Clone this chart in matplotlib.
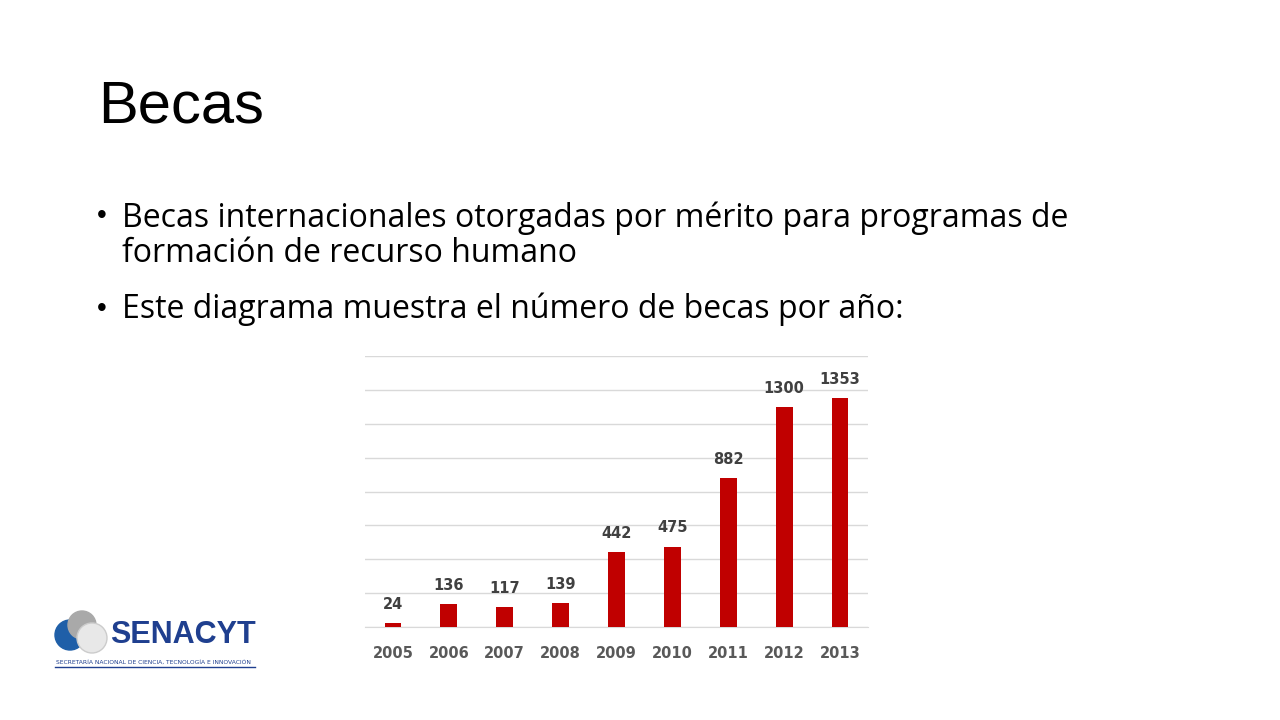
import matplotlib
matplotlib.use('Agg')
import matplotlib.pyplot as plt
from matplotlib.patches import Circle

years = ['2005', '2006', '2007', '2008', '2009', '2010', '2011', '2012', '2013']
becas = [24, 136, 117, 139, 442, 475, 882, 1300, 1353]

fig = plt.figure(figsize=[12.8, 7.2], dpi=100)
fig.text(98/1280, 1 - 107/720, 'Becas', fontsize=43, family='Liberation Sans', va='center')
fig.text(97/1280, 1 - 216/720, '•', fontsize=20, family='Liberation Sans', va='center')
fig.text(122/1280, 1 - 236/720, 'Becas internacionales otorgadas por mérito para programas de\nformación de recurso humano',
         fontsize=23, family='Open Sans', va='center', linespacing=1.1)
fig.text(97/1280, 1 - 309/720, '•', fontsize=20, family='Liberation Sans', va='center')
fig.text(122/1280, 1 - 309/720, 'Este diagrama muestra el número de becas por año:',
         fontsize=23, family='Open Sans', va='center')

ax = fig.add_axes([365/1280, 1 - 627/720, 503/1280, 271/720])
bars = ax.bar(years, becas, width=0.3, color='#c00000', zorder=3)
ax.set_ylim(0, 1600)
ax.set_xlim(-0.5, len(years) - 0.5)
ax.set_yticks(range(0, 1601, 200))
ax.yaxis.grid(True, color='#d9d9d9', lw=1, zorder=0)
ax.tick_params(axis='y', left=False, labelleft=False)
ax.tick_params(axis='x', length=0, pad=14, labelsize=10.5, colors='#595959')
for lbl in ax.get_xticklabels():
    lbl.set_fontweight('bold')
for s in ['top', 'left', 'right']:
    ax.spines[s].set_visible(False)
ax.spines['bottom'].set_color('#d9d9d9')
for b, v in zip(bars, becas):
    ax.annotate(str(v), (b.get_x() + b.get_width() / 2, v), xytext=(0, 8), textcoords='offset points',
                ha='center', va='bottom', fontsize=10.5, fontweight='bold', color='#404040')

# logo
lax = fig.add_axes([50/1280, 1 - 675/720, 215/1280, 70/720])
lax.set_xlim(0, 215)
lax.set_ylim(70, 0)
lax.axis('off')
lax.add_patch(Circle((20, 30), 15, color='#1f5fa8'))
lax.add_patch(Circle((32, 20), 14, color='#a9a9a9'))
lax.add_patch(Circle((42, 33), 15, color='#e8e8e8', ec='#cccccc'))
lax.text(60, 30, 'SENACYT', fontsize=22, fontweight='bold', color='#1f3f8f', va='center',
         family='Liberation Sans', fontstretch='condensed')
lax.text(6, 57, 'SECRETARÍA NACIONAL DE CIENCIA, TECNOLOGÍA E INNOVACIÓN', fontsize=4.3,
         color='#1f3f8f', va='center')
lax.plot([5, 205], [62, 62], color='#1f3f8f', lw=1)

plt.savefig('out.png')
